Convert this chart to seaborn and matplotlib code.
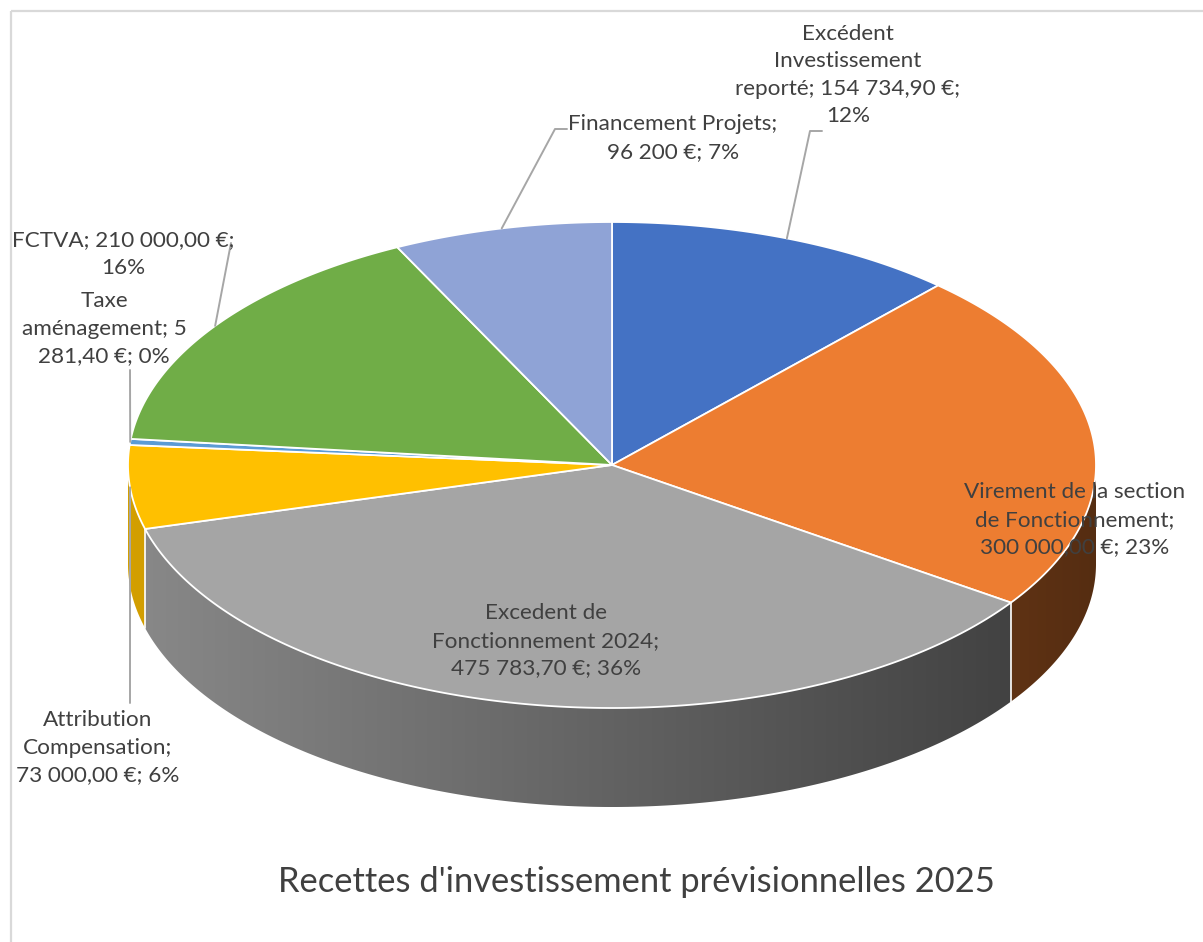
import numpy as np
import seaborn as sns
import matplotlib.pyplot as plt
from matplotlib.patches import Polygon, Rectangle
from matplotlib.colors import to_rgb

# --- data ---
categories = ["Excédent Investissement reporté", "Virement de la section de Fonctionnement",
              "Excedent de Fonctionnement 2024", "Attribution Compensation",
              "Taxe aménagement", "FCTVA", "Financement Projets"]
amounts = [154734.90, 300000.00, 475783.70, 73000.00, 5281.40, 210000.00, 96200.00]
label_texts = [
    "Excédent\nInvestissement\nreporté; 154\u202f734,90\u202f€;\n12%",
    "Virement de la section\nde Fonctionnement;\n300\u202f000,00\u202f€; 23%",
    "Excedent de\nFonctionnement 2024;\n475\u202f783,70\u202f€; 36%",
    "Attribution\nCompensation;\n73\u202f000,00\u202f€; 6%",
    "Taxe\naménagement; 5\n281,40\u202f€; 0%",
    "FCTVA; 210\u202f000,00\u202f€;\n16%",
    "Financement Projets;\n96\u202f200\u202f€; 7%",
]
slice_colors = ["#4472C4", "#ED7D31", "#A5A5A5", "#FFC000", "#5B9BD5", "#70AD47", "#8FA3D6"]
title = "Recettes d'investissement prévisionnelles 2025"

# --- layout (pixels) ---
W, H = 1203, 942
cx, cy, rx, ry, depth = 612, 465, 484, 243, 99
label_pos = [(848, 75), (1075, 520), (546, 641), (98, 748), (104, 329), (123, 254), (673, 138)]
# elbow points from the label towards the slice (None = no leader)
leader_pts = [[(822, 131), (810, 131)], None, None, [(130, 703)], [(130, 370)],
              [(231, 243)], [(567, 129), (555, 129)]]

sns.set_theme(style="white")
plt.rcParams['font.family'] = ['Lato', 'DejaVu Sans']
palette = sns.color_palette(slice_colors)

fig = plt.figure(figsize=(W / 100, H / 100), dpi=100)
ax = fig.add_axes([0, 0, 1, 1])
ax.axis("off")

ax.add_patch(Rectangle((10.5, 10.5), W + 20, H + 20, fill=False,
                       edgecolor="#d9d9d9", linewidth=1.6, zorder=0))


def ex(t):
    return cx + rx * np.sin(np.radians(t))


def ey(t):
    return cy - ry * np.cos(np.radians(t))


def shade(x):
    return 0.83 - 0.47 * (x - (cx - rx)) / (2 * rx)


total = sum(amounts)
bounds = np.concatenate([[0], np.cumsum(amounts) / total * 360])

# side walls (front half only), with a left-to-right shading gradient
xs = np.linspace(cx - rx, cx + rx, 600)
for i, col in enumerate(palette):
    a0, a1 = max(bounds[i], 90), min(bounds[i + 1], 270)
    if a1 <= a0:
        continue
    ts = np.linspace(a0, a1, max(int((a1 - a0) * 3), 3))
    top = [(ex(t), ey(t)) for t in ts]
    bottom = [(ex(t), ey(t) + depth) for t in ts[::-1]]
    wall = Polygon(top + bottom, closed=True, facecolor="none", edgecolor="none")
    ax.add_patch(wall)
    grad = np.clip(np.array(to_rgb(col))[None, None, :] * shade(xs)[None, :, None], 0, 1)
    grad = np.repeat(grad, 2, axis=0)
    im = ax.imshow(grad, extent=(cx - rx, cx + rx, cy + ry + depth + 5, cy - 5),
                   aspect="auto", interpolation="bilinear", zorder=1)
    im.set_clip_path(wall)
for b in bounds:
    if 90 < b < 270:
        ax.plot([ex(b), ex(b)], [ey(b), ey(b) + depth], color="white", lw=1.2, zorder=2)

# top faces
for i, col in enumerate(palette):
    ts = np.linspace(bounds[i], bounds[i + 1], max(int((bounds[i + 1] - bounds[i]) * 3), 3))
    pts = [(cx, cy)] + [(ex(t), ey(t)) for t in ts]
    ax.add_patch(Polygon(pts, closed=True, facecolor=col, edgecolor="white",
                         linewidth=1.3, joinstyle="round", zorder=3))

# labels and leader lines
for i, txt in enumerate(label_texts):
    lx, ly = label_pos[i]
    ax.text(lx, ly, txt, ha="center", va="center", fontsize=16.2, color="#404040",
            linespacing=1.47, zorder=5)
    if leader_pts[i] is not None:
        mid = (bounds[i] + bounds[i + 1]) / 2
        pts = leader_pts[i] + [(ex(mid), ey(mid))]
        ax.plot([p[0] for p in pts], [p[1] for p in pts], color="#a6a6a6", lw=1.4, zorder=4)

ax.text(636, 882, title, ha="center", va="center", fontsize=24.8, color="#404040")

ax.set_xlim(0, W)
ax.set_ylim(H, 0)
fig.savefig("out.png", dpi=100)
